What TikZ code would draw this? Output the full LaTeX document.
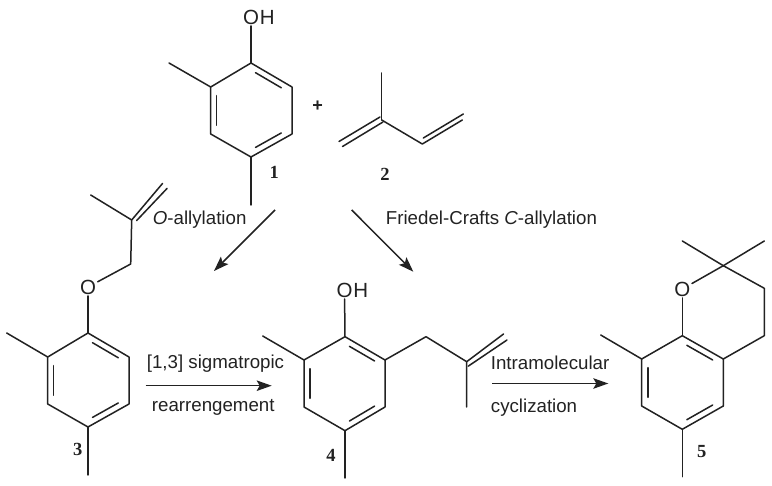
\documentclass[tikz,border=0pt]{standalone}
\usepackage{fontspec}
\setmainfont{Liberation Sans}
\newfontfamily\numfont{Liberation Serif}
\usetikzlibrary{arrows.meta,calc}
\definecolor{ink}{HTML}{222222}
\tikzset{
  bond/.style={draw=ink,line width=1.5pt,line cap=round,line join=round},
  rxn/.style={draw=ink,line width=1.5pt,-{Stealth[length=15pt,width=10.5pt,inset=3pt]}},
  atomlabel/.style={text=ink,inner sep=1.5pt,font=\fontsize{20.5}{22}\selectfont},
  hatom/.style={text=ink,inner sep=0pt,anchor=west,font=\fontsize{20.5}{22}\selectfont},
  numlabel/.style={text=ink,inner sep=0pt,font=\numfont\bfseries\fontsize{18.5}{20}\selectfont},
  cond/.style={text=ink,inner sep=0pt,anchor=base west,font=\fontsize{18.7}{20}\selectfont}
}
% ring: #1 prefix, then the six atoms top, left-top, left-bottom, bottom, right-bottom, right-top
\newcommand{\ringat}[7]{
  \coordinate (#1t) at #2; \coordinate (#1lt) at #3; \coordinate (#1lb) at #4;
  \coordinate (#1b) at #5; \coordinate (#1rb) at #6; \coordinate (#1rt) at #7;
  \coordinate (#1c) at ($(#1t)!.5!(#1b)$);
  \draw[bond] (#1t)--(#1lt)--(#1lb)--(#1b)--(#1rb)--(#1rt)--cycle;
  \draw[bond] ($(#1t)!.13!(#1rt)!.15!(#1c)$)--($(#1rt)!.13!(#1t)!.15!(#1c)$);
  \draw[bond] ($(#1lt)!.13!(#1lb)!.15!(#1c)$)--($(#1lb)!.13!(#1lt)!.15!(#1c)$);
  \draw[bond] ($(#1b)!.13!(#1rb)!.15!(#1c)$)--($(#1rb)!.13!(#1b)!.15!(#1c)$);
}
\begin{document}
\begin{tikzpicture}[x=1pt,y=-1pt]
\useasboundingbox (0,0) rectangle (772,486);
\fill[white] (0,0) rectangle (772,486);

% --- 1
\ringat{a}{(251,63)}{(210.7,87)}{(210.7,134)}{(251,157)}{(292,134)}{(292,87)}
\node[atomlabel] (o1) at (251,17) {O};
\node[hatom] (h1) at ([xshift=-1pt]o1.east) {H};
\coordinate (a1) at (169,63);
\coordinate (a2) at (251,205);
\draw[bond] (o1)--(at);
\draw[bond] (alt)--(a1);
\draw[bond] (ab)--(a2);
\node[numlabel] (n1) at (274.3,172.7) {1};
\node[text=ink,inner sep=0pt,font=\bfseries\fontsize{18}{20}\selectfont] (plus) at (317.7,106.5) {+};

% --- 2
\coordinate (b1) at (381.7,120);
\coordinate (b2) at (381.7,73);
\coordinate (b3) at (342.5,146.5);
\coordinate (b3i) at (383,122);
\coordinate (b3o) at (339,141.5);
\coordinate (b3p) at (380,117);
\coordinate (b4) at (422.3,144);
\coordinate (b5) at (462.3,120);
\draw[bond] (b1)--(b2);
\draw[bond] (b1)--(b4)--(b5);
\draw[bond] (b3i)--(b3);
\draw[bond] (b3p)--(b3o);
\draw[bond] ($(b4)+(1,-6)$)--($(b5)+(1,-0)+(0,-6)$);
\node[numlabel] (n2) at (385,174) {2};

% --- 3
\ringat{c}{(88,333)}{(47.7,357)}{(47.7,404)}{(88,427)}{(129,404)}{(129,357)}
\node[atomlabel] (o3) at (88,287) {O};
\coordinate (c1) at (6.7,333);
\coordinate (c2) at (88,475);
\coordinate (c3) at (130.7,264);
\coordinate (c4) at (131.7,220);
\coordinate (c5) at (90.7,195);
\coordinate (c6) at (162.5,183.5);
\coordinate (c7) at (167,188.5);
\draw[bond] (o3)--(ct);
\draw[bond] (clt)--(c1);
\draw[bond] (cb)--(c2);
\draw[bond] (o3)--(c3)--(c4)--(c5);
\draw[bond] (c4)--(c6);
\draw[bond] ($(c4)+(5,0.5)$)--(c7);
\node[numlabel] (n3) at (77.7,449) {3};

% --- 4
\ringat{d}{(345,336.7)}{(304,360)}{(304,407)}{(345,430.7)}{(385,407)}{(385,360)}
\node[atomlabel] (o4) at (344.5,290) {O};
\node[hatom] (h4) at ([xshift=-1pt]o4.east) {H};
\coordinate (d1) at (262.7,336);
\coordinate (d2) at (345,478);
\coordinate (d3) at (426,336.7);
\coordinate (d4) at (466.7,361.7);
\coordinate (d5) at (466.7,407);
\coordinate (d6) at (503.5,334);
\coordinate (d7) at (507,340);
\draw[bond] (o4)--(dt);
\draw[bond] (dlt)--(d1);
\draw[bond] (db)--(d2);
\draw[bond] (drt)--(d3)--(d4)--(d5);
\draw[bond] (d4)--(d6);
\draw[bond] ($(d4)+(1.5,4.5)$)--(d7);
\node[numlabel] (n4) at (331,455) {4};

% --- 5
\ringat{e}{(682.3,335.7)}{(641.7,359)}{(641.7,406)}{(682.3,429.3)}{(723.3,406)}{(723.3,359)}
\node[atomlabel] (o5) at (682.3,289) {O};
\coordinate (e1) at (600.7,335);
\coordinate (e2) at (682.3,476.7);
\coordinate (e3) at (723.3,265.7);
\coordinate (e4) at (682.3,241);
\coordinate (e5) at (764.3,241);
\coordinate (e6) at (764.3,288.3);
\coordinate (e7) at (764.3,335.7);
\draw[bond] (o5)--(et);
\draw[bond] (elt)--(e1);
\draw[bond] (eb)--(e2);
\draw[bond] (o5)--(e3);
\draw[bond] (e3)--(e4);
\draw[bond] (e3)--(e5);
\draw[bond] (e3)--(e6)--(e7)--(ert);
\node[numlabel] (n5) at (701.7,451.7) {5};

% --- reaction arrows
\coordinate (r1s) at (275,210);
\coordinate (r1e) at (214,271);
\coordinate (r2s) at (351.7,210);
\coordinate (r2e) at (413.3,271.7);
\coordinate (r3s) at (145.7,385.7);
\coordinate (r3e) at (271.7,385.7);
\coordinate (r4s) at (492.3,383.5);
\coordinate (r4e) at (608.3,383.5);
\draw[rxn] (r1s)--(r1e);
\draw[rxn] (r2s)--(r2e);
\draw[rxn] (r3s)--(r3e);
\draw[rxn] (r4s)--(r4e);

% --- conditions
\node[cond] (t1) at (152.7,225) {\textit{O}-allylation};
\node[cond] (t2) at (385.7,225) {Friedel-Crafts \textit{C}-allylation};
\node[cond] (t3) at (146.7,369) {[1,3] sigmatropic};
\node[cond] (t4) at (151.7,412) {rearrengement};
\node[cond] (t5) at (490.7,370) {Intramolecular};
\node[cond] (t6) at (490.7,413) {cyclization};
\end{tikzpicture}
\end{document}
